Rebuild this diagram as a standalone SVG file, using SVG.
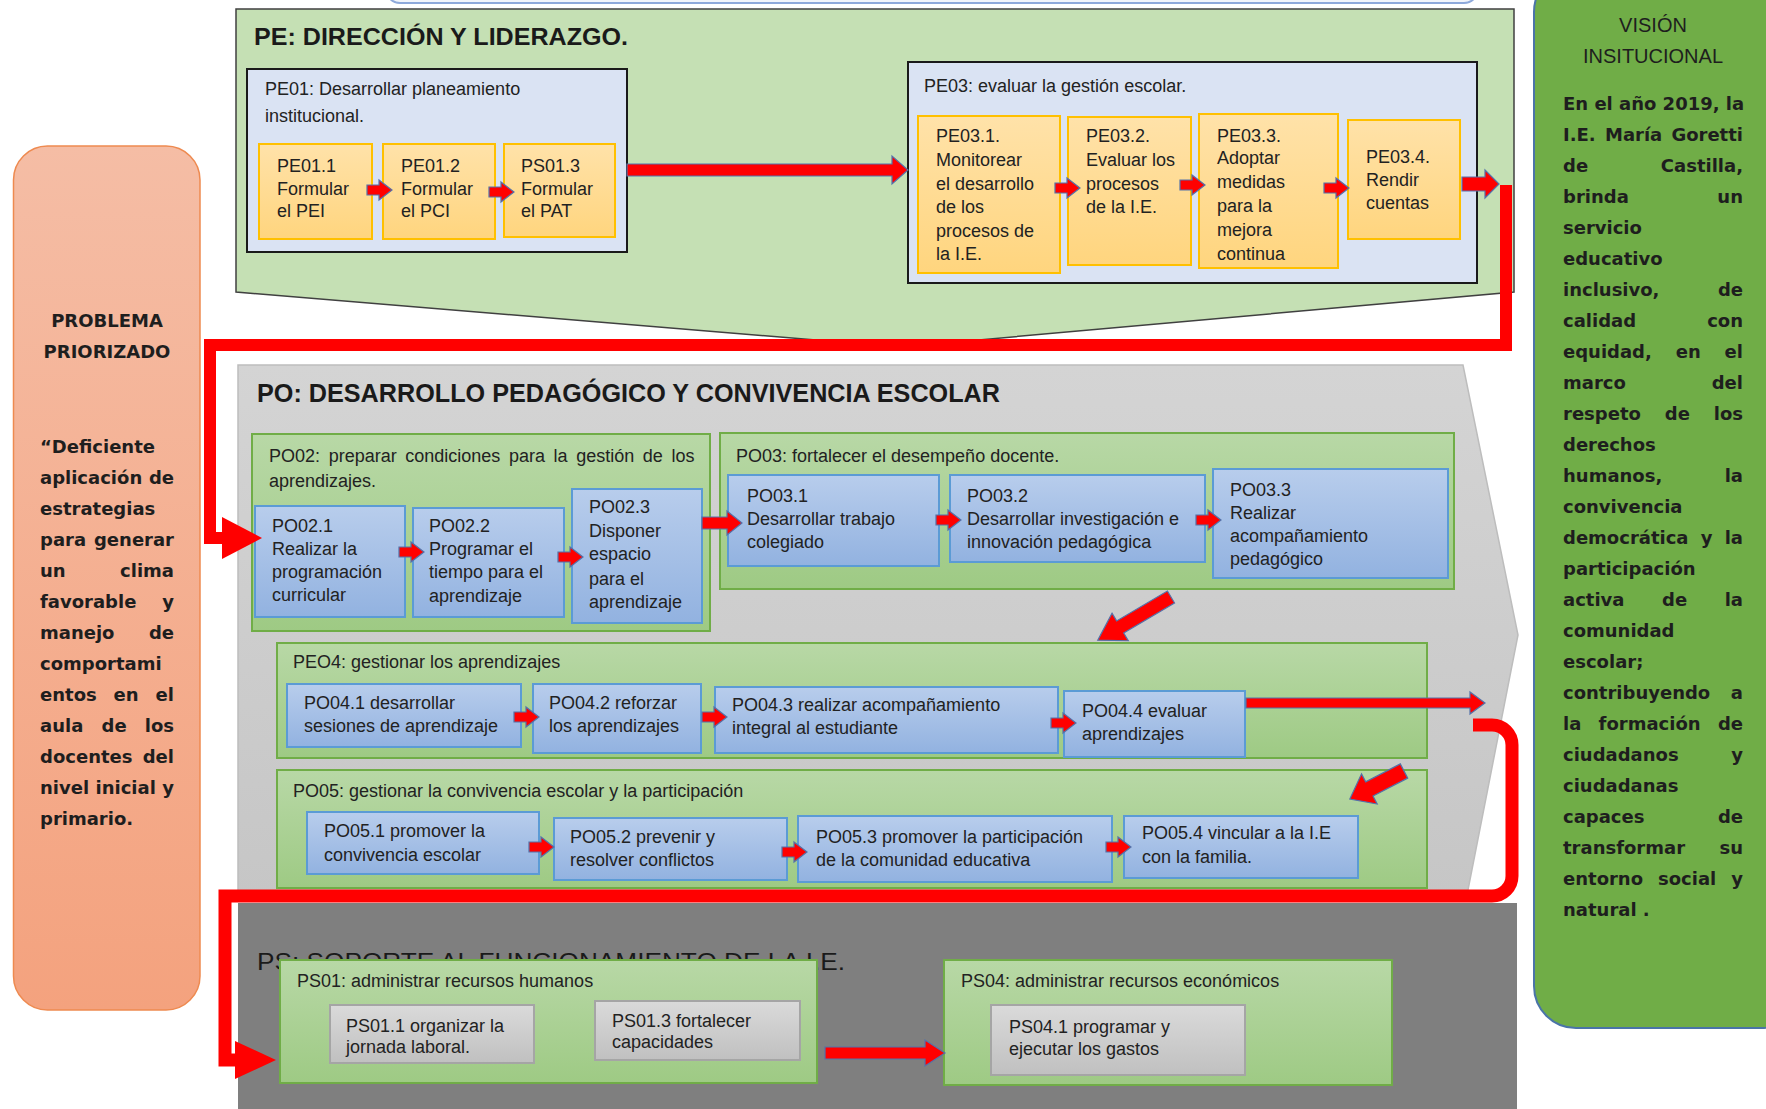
<svg xmlns="http://www.w3.org/2000/svg" xmlns:xlink="http://www.w3.org/1999/xlink" width="1766" height="1109" viewBox="0 0 1766 1109">
<style>
.t{font-family:"Liberation Sans",Arial,sans-serif;font-size:18px;fill:#222}
.h{font-family:"Liberation Sans",Arial,sans-serif;font-weight:bold;fill:#1a1a1a}
.v{font-family:"DejaVu Sans",Verdana,sans-serif;font-weight:bold;font-size:18px;fill:#1e1e1e}
.vt{font-family:"Liberation Sans",Arial,sans-serif;font-size:20px;fill:#1e1e1e;text-anchor:middle}
.e{text-anchor:end}
.m{text-anchor:middle}
.or{fill:url(#gOr);stroke:#FFC000;stroke-width:2}
.bl{fill:url(#gBl);stroke:#5B9BD5;stroke-width:2}
.gr{fill:url(#gGr);stroke:#70AD47;stroke-width:2}
.gy{fill:url(#gGy);stroke:#A5A5A5;stroke-width:2}
.pb{fill:#DAE3F3;stroke:#1a1a1a;stroke-width:2}
.ar{fill:#FF0000;stroke:#5472AA;stroke-width:1.2}
.rl{fill:none;stroke:#FF0000;stroke-linejoin:miter}
</style>
<defs>
<linearGradient id="gOr" x1="0" y1="0" x2="0" y2="1"><stop offset="0" stop-color="#FFE2A9"/><stop offset="1" stop-color="#FFD57E"/></linearGradient>
<linearGradient id="gBl" x1="0" y1="0" x2="0" y2="1"><stop offset="0" stop-color="#B8CDEC"/><stop offset="1" stop-color="#92B2E0"/></linearGradient>
<linearGradient id="gGr" x1="0" y1="0" x2="0" y2="1"><stop offset="0" stop-color="#B8D8A6"/><stop offset="1" stop-color="#9ECA84"/></linearGradient>
<linearGradient id="gGy" x1="0" y1="0" x2="0" y2="1"><stop offset="0" stop-color="#DADADA"/><stop offset="1" stop-color="#C0C0C0"/></linearGradient>
<linearGradient id="gSa" x1="0" y1="0" x2="0" y2="1"><stop offset="0" stop-color="#F5BDA5"/><stop offset="1" stop-color="#F4A27E"/></linearGradient>
<linearGradient id="gPo" x1="0" y1="0" x2="0" y2="1"><stop offset="0" stop-color="#D4D4D4"/><stop offset="1" stop-color="#C6C6C6"/></linearGradient>
<path id="sa" d="M0,-5 H12 V-10 L25,0 L12,10 V5 H0 Z"/>
</defs>

<rect x="0" y="0" width="1766" height="1109" fill="#FFFFFF"/>

<g id="top-shape">
<rect x="386" y="-40" width="1092" height="43" rx="14" fill="#F2F5FB" stroke="#8EA9DB" stroke-width="2"/>
</g>

<g id="problema">
<rect x="13.5" y="146" width="186.5" height="864" rx="34" fill="url(#gSa)" stroke="#EE8A50" stroke-width="1.5"/>
<text class="v m" x="107" y="327">PROBLEMA</text>
<text class="v m" x="107" y="358">PRIORIZADO</text>
<text class="v" x="40" y="453">“Deficiente</text>
<text class="v" x="40" y="484">aplicación</text><text class="v e" x="174" y="484">de</text>
<text class="v" x="40" y="515">estrategias</text>
<text class="v" x="40" y="546">para</text><text class="v e" x="174" y="546">generar</text>
<text class="v" x="40" y="577">un</text><text class="v e" x="174" y="577">clima</text>
<text class="v" x="40" y="608">favorable</text><text class="v e" x="174" y="608">y</text>
<text class="v" x="40" y="639">manejo</text><text class="v e" x="174" y="639">de</text>
<text class="v" x="40" y="670">comportami</text>
<text class="v" x="40" y="701">entos</text><text class="v" x="113.6" y="701">en</text><text class="v e" x="174" y="701">el</text>
<text class="v" x="40" y="732">aula</text><text class="v" x="101.5" y="732">de</text><text class="v e" x="174" y="732">los</text>
<text class="v" x="40" y="763">docentes</text><text class="v e" x="174" y="763">del</text>
<text class="v" x="40" y="794">nivel</text><text class="v" x="95.5" y="794">inicial</text><text class="v e" x="174" y="794">y</text>
<text class="v" x="40" y="825">primario.</text>
</g>

<g id="vision">
<rect x="1534" y="-30" width="270" height="1058" rx="42" fill="#70AD47" stroke="#4A74A8" stroke-width="2"/>
<text class="vt" x="1653" y="32">VISIÓN</text>
<text class="vt" x="1653" y="63">INSITUCIONAL</text>
<text class="v" x="1563" y="110">En el año 2019, la</text>
<text class="v" x="1563" y="141">I.E.</text><text class="v" x="1605" y="141">María</text><text class="v e" x="1743" y="141">Goretti</text>
<text class="v" x="1563" y="172">de</text><text class="v e" x="1743" y="172">Castilla,</text>
<text class="v" x="1563" y="203">brinda</text><text class="v e" x="1743" y="203">un</text>
<text class="v" x="1563" y="234">servicio</text>
<text class="v" x="1563" y="265">educativo</text>
<text class="v" x="1563" y="296">inclusivo,</text><text class="v e" x="1743" y="296">de</text>
<text class="v" x="1563" y="327">calidad</text><text class="v e" x="1743" y="327">con</text>
<text class="v" x="1563" y="358">equidad,</text><text class="v" x="1675.7" y="358">en</text><text class="v e" x="1743" y="358">el</text>
<text class="v" x="1563" y="389">marco</text><text class="v e" x="1743" y="389">del</text>
<text class="v" x="1563" y="420">respeto</text><text class="v" x="1664.8" y="420">de</text><text class="v e" x="1743" y="420">los</text>
<text class="v" x="1563" y="451">derechos</text>
<text class="v" x="1563" y="482">humanos,</text><text class="v e" x="1743" y="482">la</text>
<text class="v" x="1563" y="513">convivencia</text>
<text class="v" x="1563" y="544">democrática</text><text class="v" x="1700.7" y="544">y</text><text class="v e" x="1743" y="544">la</text>
<text class="v" x="1563" y="575">participación</text>
<text class="v" x="1563" y="606">activa</text><text class="v" x="1662" y="606">de</text><text class="v e" x="1743" y="606">la</text>
<text class="v" x="1563" y="637">comunidad</text>
<text class="v" x="1563" y="668">escolar;</text>
<text class="v" x="1563" y="699">contribuyendo</text><text class="v e" x="1743" y="699">a</text>
<text class="v" x="1563" y="730">la</text><text class="v" x="1598.6" y="730">formación</text><text class="v e" x="1743" y="730">de</text>
<text class="v" x="1563" y="761">ciudadanos</text><text class="v e" x="1743" y="761">y</text>
<text class="v" x="1563" y="792">ciudadanas</text>
<text class="v" x="1563" y="823">capaces</text><text class="v e" x="1743" y="823">de</text>
<text class="v" x="1563" y="854">transformar</text><text class="v e" x="1743" y="854">su</text>
<text class="v" x="1563" y="885">entorno</text><text class="v" x="1658" y="885">social</text><text class="v e" x="1743" y="885">y</text>
<text class="v" x="1563" y="916">natural .</text>
</g>

<g id="pe">
<polygon points="236,9 1514,9 1514,292 900,347 236,292" fill="#C5E0B4" stroke="#404040" stroke-width="1.5"/>
<text class="h" x="254" y="45" font-size="24" textLength="374" lengthAdjust="spacingAndGlyphs">PE: DIRECCIÓN Y LIDERAZGO.</text>
</g>

<g id="pe01">
<rect class="pb" x="247" y="69" width="380" height="183"/>
<text class="t" x="265" y="95">PE01: Desarrollar planeamiento</text>
<text class="t" x="265" y="122">institucional.</text>
</g>
<g id="pe01-1">
<rect class="or" x="259" y="144" width="113" height="95"/>
<text class="t" x="277" y="172">PE01.1</text><text class="t" x="277" y="195">Formular</text><text class="t" x="277" y="217">el PEI</text>
</g>
<g id="pe01-2">
<rect class="or" x="383" y="144" width="112" height="95"/>
<text class="t" x="401" y="172">PE01.2</text><text class="t" x="401" y="195">Formular</text><text class="t" x="401" y="217">el PCI</text>
</g>
<g id="ps01-3-pe">
<rect class="or" x="504" y="144" width="111" height="93"/>
<text class="t" x="521" y="172">PS01.3</text><text class="t" x="521" y="195">Formular</text><text class="t" x="521" y="217">el PAT</text>
</g>

<g id="pe03">
<rect class="pb" x="908" y="62" width="569" height="221"/>
<text class="t" x="924" y="92">PE03: evaluar la gestión escolar.</text>
</g>
<g id="pe03-1">
<rect class="or" x="918" y="116" width="142" height="157"/>
<text class="t" x="936" y="142">PE03.1.</text><text class="t" x="936" y="166">Monitorear</text><text class="t" x="936" y="190">el desarrollo</text><text class="t" x="936" y="213">de los</text><text class="t" x="936" y="237">procesos de</text><text class="t" x="936" y="260">la I.E.</text>
</g>
<g id="pe03-2">
<rect class="or" x="1068" y="117" width="123" height="148"/>
<text class="t" x="1086" y="142">PE03.2.</text><text class="t" x="1086" y="166">Evaluar los</text><text class="t" x="1086" y="190">procesos</text><text class="t" x="1086" y="213">de la I.E.</text>
</g>
<g id="pe03-3">
<rect class="or" x="1199" y="114" width="139" height="154"/>
<text class="t" x="1217" y="142">PE03.3.</text><text class="t" x="1217" y="164">Adoptar</text><text class="t" x="1217" y="188">medidas</text><text class="t" x="1217" y="212">para la</text><text class="t" x="1217" y="236">mejora</text><text class="t" x="1217" y="260">continua</text>
</g>
<g id="pe03-4">
<rect class="or" x="1348" y="120" width="112" height="119"/>
<text class="t" x="1366" y="163">PE03.4.</text><text class="t" x="1366" y="186">Rendir</text><text class="t" x="1366" y="209">cuentas</text>
</g>

<g id="po">
<polygon points="238,365 1463,365 1518,635 1467,895 238,895" fill="url(#gPo)" stroke="#BDBDBD" stroke-width="1.5"/>
<text class="h" x="257" y="402" font-size="25" textLength="743" lengthAdjust="spacingAndGlyphs">PO: DESARROLLO PEDAGÓGICO Y CONVIVENCIA ESCOLAR</text>
</g>

<g id="po02">
<rect class="gr" x="252" y="434" width="458" height="197"/>
<text class="t" x="269" y="462" word-spacing="3.6">PO02: preparar condiciones para la gestión de los</text>
<text class="t" x="269" y="487">aprendizajes.</text>
</g>
<g id="po02-1">
<rect class="bl" x="255" y="506" width="150" height="111"/>
<text class="t" x="272" y="532">PO02.1</text><text class="t" x="272" y="555">Realizar la</text><text class="t" x="272" y="578">programación</text><text class="t" x="272" y="601">curricular</text>
</g>
<g id="po02-2">
<rect class="bl" x="413" y="508" width="151" height="109"/>
<text class="t" x="429" y="532">PO02.2</text><text class="t" x="429" y="555">Programar el</text><text class="t" x="429" y="578">tiempo para el</text><text class="t" x="429" y="602">aprendizaje</text>
</g>
<g id="po02-3">
<rect class="bl" x="572" y="489" width="130" height="134"/>
<text class="t" x="589" y="513">PO02.3</text><text class="t" x="589" y="537">Disponer</text><text class="t" x="589" y="560">espacio</text><text class="t" x="589" y="585">para el</text><text class="t" x="589" y="608">aprendizaje</text>
</g>

<g id="po03">
<rect class="gr" x="720" y="433" width="734" height="156"/>
<text class="t" x="736" y="462">PO03: fortalecer el desempeño docente.</text>
</g>
<g id="po03-1">
<rect class="bl" x="728" y="475" width="211" height="91"/>
<text class="t" x="747" y="502">PO03.1</text><text class="t" x="747" y="525">Desarrollar trabajo</text><text class="t" x="747" y="548">colegiado</text>
</g>
<g id="po03-2">
<rect class="bl" x="950" y="475" width="255" height="87"/>
<text class="t" x="967" y="502">PO03.2</text><text class="t" x="967" y="525">Desarrollar investigación e</text><text class="t" x="967" y="548">innovación pedagógica</text>
</g>
<g id="po03-3">
<rect class="bl" x="1213" y="469" width="235" height="109"/>
<text class="t" x="1230" y="496">PO03.3</text><text class="t" x="1230" y="519">Realizar</text><text class="t" x="1230" y="542">acompañamiento</text><text class="t" x="1230" y="565">pedagógico</text>
</g>

<g id="peo4">
<rect class="gr" x="277" y="643" width="1150" height="115"/>
<text class="t" x="293" y="668">PEO4: gestionar los aprendizajes</text>
</g>
<g id="po04-1">
<rect class="bl" x="287" y="684" width="234" height="63"/>
<text class="t" x="304" y="709">PO04.1 desarrollar</text><text class="t" x="304" y="732">sesiones de aprendizaje</text>
</g>
<g id="po04-2">
<rect class="bl" x="533" y="684" width="168" height="69"/>
<text class="t" x="549" y="709">PO04.2 reforzar</text><text class="t" x="549" y="732">los aprendizajes</text>
</g>
<g id="po04-3">
<rect class="bl" x="715" y="687" width="343" height="66"/>
<text class="t" x="732" y="711">PO04.3 realizar acompañamiento</text><text class="t" x="732" y="734">integral al estudiante</text>
</g>
<g id="po04-4">
<rect class="bl" x="1064" y="691" width="181" height="66"/>
<text class="t" x="1082" y="717">PO04.4 evaluar</text><text class="t" x="1082" y="740">aprendizajes</text>
</g>

<g id="po05">
<rect class="gr" x="277" y="770" width="1150" height="118"/>
<text class="t" x="293" y="797">PO05: gestionar la convivencia escolar y la participación</text>
</g>
<g id="po05-1">
<rect class="bl" x="307" y="812" width="232" height="62"/>
<text class="t" x="324" y="837">PO05.1 promover la</text><text class="t" x="324" y="861">convivencia escolar</text>
</g>
<g id="po05-2">
<rect class="bl" x="554" y="818" width="233" height="62"/>
<text class="t" x="570" y="843">PO05.2 prevenir y</text><text class="t" x="570" y="866">resolver conflictos</text>
</g>
<g id="po05-3">
<rect class="bl" x="798" y="816" width="314" height="66"/>
<text class="t" x="816" y="843">PO05.3 promover la participación</text><text class="t" x="816" y="866">de la comunidad educativa</text>
</g>
<g id="po05-4">
<rect class="bl" x="1124" y="816" width="234" height="62"/>
<text class="t" x="1142" y="839">PO05.4 vincular a la I.E</text><text class="t" x="1142" y="863">con la familia.</text>
</g>

<g id="ps">
<rect x="238" y="903" width="1279" height="210" fill="#7F7F7F"/>
<text class="h" x="257" y="970" font-size="23" font-weight="normal" style="font-weight:normal" textLength="588" lengthAdjust="spacingAndGlyphs">PS: SOPORTE AL FUNCIONAMIENTO DE LA I.E.</text>
</g>
<g id="ps01">
<rect class="gr" x="280" y="960" width="537" height="123"/>
<text class="t" x="297" y="987">PS01: administrar recursos humanos</text>
</g>
<g id="ps01-1">
<rect class="gy" x="330" y="1005" width="204" height="58"/>
<text class="t" x="346" y="1032">PS01.1 organizar la</text><text class="t" x="346" y="1053">jornada laboral.</text>
</g>
<g id="ps01-3">
<rect class="gy" x="595" y="1001" width="205" height="59"/>
<text class="t" x="612" y="1027">PS01.3 fortalecer</text><text class="t" x="612" y="1048">capacidades</text>
</g>
<g id="ps04">
<rect class="gr" x="944" y="960" width="448" height="125"/>
<text class="t" x="961" y="987">PS04: administrar recursos económicos</text>
</g>
<g id="ps04-1">
<rect class="gy" x="991" y="1005" width="254" height="70"/>
<text class="t" x="1009" y="1033">PS04.1 programar y</text><text class="t" x="1009" y="1055">ejecutar los gastos</text>
</g>

<g id="connectors">
<path class="rl" stroke-width="12" d="M1506,185 V345 H210 V538 H228"/>
<polygon fill="#FF0000" points="222,517 262,538 222,559"/>
<path class="rl" stroke-width="13" d="M1473,725 H1492 A20,20 0 0 1 1512,745 V876 A20,20 0 0 1 1492,896 H225 V1060 H240"/>
<polygon fill="#FF0000" points="235,1041 276,1060 235,1079"/>

<path class="ar" d="M627,164 H892 V156 L908,170 L892,184 V176 H627 Z"/>
<path class="ar" d="M1462,177 H1485 V170 L1499,184 L1485,198 V191 H1462 Z"/>
<path class="ar" d="M702,517 H727 V511 L742,523 L727,535 V529 H702 Z"/>
<path class="ar" transform="translate(1171,597) rotate(149.5)" d="M0,-7 H59 V-16 L85,0 L59,16 V7 H0 Z"/>
<path class="ar" d="M1246,698 H1470 V692 L1485,703 L1470,714 V708 H1246 Z"/>
<path class="ar" transform="translate(1404,771) rotate(152.6)" d="M0,-8 H39 V-17 L61,0 L39,17 V8 H0 Z"/>
<path class="ar" d="M825,1047 H925 V1040 L945,1053 L925,1066 V1059 H825 Z"/>

<use xlink:href="#sa" href="#sa" class="ar" transform="translate(367,190)"/>
<use xlink:href="#sa" href="#sa" class="ar" transform="translate(489,192)"/>
<use xlink:href="#sa" href="#sa" class="ar" transform="translate(1055,188)"/>
<use xlink:href="#sa" href="#sa" class="ar" transform="translate(1180,185)"/>
<use xlink:href="#sa" href="#sa" class="ar" transform="translate(1324,188)"/>
<use xlink:href="#sa" href="#sa" class="ar" transform="translate(399,552)"/>
<use xlink:href="#sa" href="#sa" class="ar" transform="translate(558,557)"/>
<use xlink:href="#sa" href="#sa" class="ar" transform="translate(936,520)"/>
<use xlink:href="#sa" href="#sa" class="ar" transform="translate(1196,520)"/>
<use xlink:href="#sa" href="#sa" class="ar" transform="translate(514,717)"/>
<use xlink:href="#sa" href="#sa" class="ar" transform="translate(702,717)"/>
<use xlink:href="#sa" href="#sa" class="ar" transform="translate(1051,723)"/>
<use xlink:href="#sa" href="#sa" class="ar" transform="translate(529,847)"/>
<use xlink:href="#sa" href="#sa" class="ar" transform="translate(782,852)"/>
<use xlink:href="#sa" href="#sa" class="ar" transform="translate(1106,847)"/>
</g>
</svg>
